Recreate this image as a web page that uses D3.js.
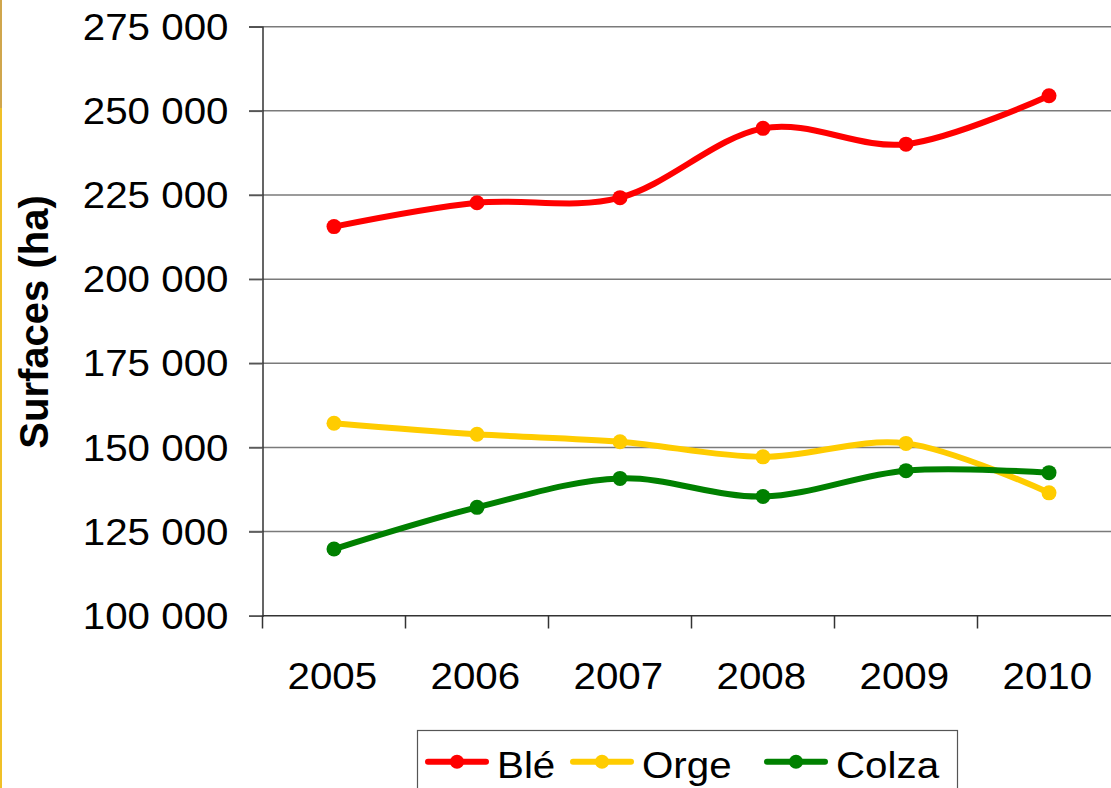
<!DOCTYPE html>
<html>
<head>
<meta charset="utf-8">
<script src="https://cdn.jsdelivr.net/npm/d3@7"></script>
<style>
  html, body { margin: 0; padding: 0; background: #fff; overflow: hidden; }
  svg { display: block; }
  text { font-family: "Liberation Sans", Arial, sans-serif; fill: #000; }
</style>
</head>
<body>
<svg id="chart" width="1111" height="788"></svg>
<script>
const years = ["2005", "2006", "2007", "2008", "2009", "2010"];
const ble   = [215600, 222700, 224200, 244800, 240100, 254500];
const orge  = [157200, 153900, 151700, 147200, 151200, 136500];
const colza = [119800, 132200, 140800, 135400, 143100, 142500];
const yTicks = [100000, 125000, 150000, 175000, 200000, 225000, 250000, 275000];
const seriesNames = ["Blé", "Orge", "Colza"];
const seriesColors = ["#ff0000", "#ffcc00", "#008000"];
const yTitle = "Surfaces (ha)";

const series = [ble, orge, colza].map((vals, i) => ({
  name: seriesNames[i], color: seriesColors[i],
  values: vals.map((v, j) => ({ year: years[j], value: v }))
}));

const svg = d3.select("#chart");
const SX = 1.09; // horizontal stretch of text glyphs

// left gold border
svg.append("rect").attr("x", 0).attr("y", 0).attr("width", 2).attr("height", 108).attr("fill", "#d0a64c");
svg.append("rect").attr("x", 0).attr("y", 108).attr("width", 2).attr("height", 680).attr("fill", "#f0c028");

const x = d3.scaleBand().domain(years).range([262.5, 262.5 + 6 * 143]).paddingInner(0).paddingOuter(0);
const y = d3.scaleLinear().domain([100000, 275000]).range([615.7, 26.7]);

const fr = d3.formatLocale({ decimal: ",", thousands: " ", grouping: [3], currency: ["", "€"] });
const fmt = fr.format(",");

// gridlines
svg.append("g")
  .selectAll("line").data(yTicks.slice(1)).join("line")
  .attr("x1", 249).attr("x2", 1111)
  .attr("y1", d => y(d)).attr("y2", d => y(d))
  .attr("stroke", "#7a7a7a").attr("stroke-width", 1.5);

// y axis
const yAxis = svg.append("g").attr("transform", "translate(262.5,0)")
  .call(d3.axisLeft(y).tickValues(yTicks).tickFormat(fmt).tickSize(13.5).tickPadding(20));
yAxis.select(".domain").attr("stroke", "#333").attr("stroke-width", 1.5);
yAxis.selectAll(".tick line").attr("stroke", "#555").attr("stroke-width", 1.5);
yAxis.selectAll(".tick text")
  .attr("font-size", 37).attr("font-family", "Liberation Sans, Arial, sans-serif")
  .attr("fill", "#000")
  .attr("x", -34 / SX).attr("dy", "0.34em")
  .attr("transform", `scale(${SX},1)`);

// x axis
const xAxis = svg.append("g").attr("transform", "translate(0,615.7)")
  .call(d3.axisBottom(x).tickSize(0).tickPadding(0));
xAxis.select(".domain").attr("stroke", "#333").attr("stroke-width", 1.5)
  .attr("d", "M262.5,0H1111");
xAxis.selectAll(".tick text")
  .attr("font-size", 37).attr("font-family", "Liberation Sans, Arial, sans-serif")
  .attr("fill", "#000")
  .attr("x", -1.5).attr("y", 73.6).attr("dy", 0)
  .attr("transform", `scale(${SX},1)`);
// boundary ticks
svg.append("g").selectAll("line").data(years.concat(["end"])).join("line")
  .attr("x1", (d, i) => x.range()[0] + i * x.step())
  .attr("x2", (d, i) => x.range()[0] + i * x.step())
  .attr("y1", 615.7).attr("y2", 628.5)
  .attr("stroke", "#333").attr("stroke-width", 1.5);

// y title
svg.append("text")
  .attr("transform", "translate(48,322) rotate(-90)")
  .attr("text-anchor", "middle")
  .attr("font-size", 40).attr("font-weight", "bold")
  .text(yTitle);

// lines
const line = d3.line()
  .x(d => x(d.year) + x.bandwidth() / 2)
  .y(d => y(d.value))
  .curve(d3.curveCardinal.tension(0));

const sg = svg.append("g").selectAll("g").data(series).join("g");
sg.append("path")
  .attr("d", d => line(d.values))
  .attr("fill", "none").attr("stroke", d => d.color)
  .attr("stroke-width", 6).attr("stroke-linejoin", "round").attr("stroke-linecap", "round");
sg.selectAll("circle").data(d => d.values.map(v => ({ ...v, color: d.color }))).join("circle")
  .attr("cx", d => x(d.year) + x.bandwidth() / 2)
  .attr("cy", d => y(d.value))
  .attr("r", 7.5).attr("fill", d => d.color);

// legend
const lg = svg.append("g");
lg.append("rect").attr("x", 417.5).attr("y", 730.5).attr("width", 540).attr("height", 80)
  .attr("fill", "#fff").attr("stroke", "#555").attr("stroke-width", 1.2);
const legX = [428, 573, 767];
const items = lg.selectAll("g.it").data(series).join("g").attr("class", "it")
  .attr("transform", (d, i) => `translate(${legX[i]},761.7)`);
items.append("line").attr("x1", 0).attr("x2", 58).attr("y1", 0).attr("y2", 0)
  .attr("stroke", d => d.color).attr("stroke-width", 6).attr("stroke-linecap", "round");
items.append("circle").attr("cx", 29).attr("cy", 0).attr("r", 7).attr("fill", d => d.color);
items.append("text")
  .attr("x", 69 / SX).attr("y", 16)
  .attr("transform", `scale(${SX},1)`)
  .attr("font-size", 37)
  .text(d => d.name);
</script>
</body>
</html>
